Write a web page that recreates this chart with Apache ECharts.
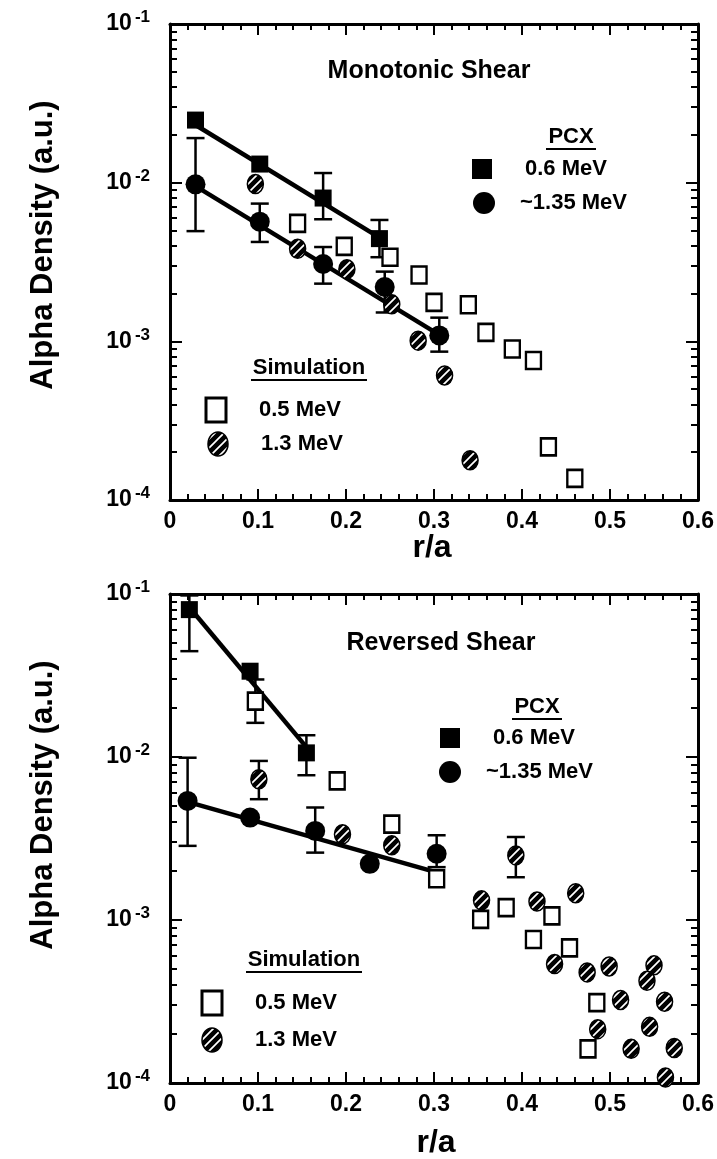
<!DOCTYPE html>
<html>
<head>
<meta charset="utf-8">
<title>Alpha density vs r/a</title>
<script src="https://cdn.jsdelivr.net/npm/echarts@6/dist/echarts.min.js"></script>
<style>
  html, body { margin: 0; padding: 0; background: #fff; }
  #main { width: 717px; height: 1159px; }
</style>
</head>
<body>
<div id="main"></div>
<script>
// values: x = r/a, y = alpha density (a.u.)

// --- Monotonic shear (top panel) ---
var monoSqX = [0.029, 0.102, 0.174, 0.238];            // PCX 0.6 MeV
var monoSqY = [0.0248, 0.0131, 0.0080, 0.00444];
var monoCircX = [0.029, 0.102, 0.174, 0.244, 0.306];   // PCX ~1.35 MeV
var monoCircY = [0.00976, 0.00568, 0.00307, 0.0022, 0.00109];
var monoSim05X = [0.145, 0.198, 0.250, 0.283, 0.300, 0.339, 0.359, 0.389, 0.413, 0.430, 0.460];
var monoSim05Y = [0.00554, 0.00397, 0.00339, 0.00262, 0.00176, 0.00170, 0.00114, 0.000895, 0.000757, 0.000216, 0.000137];
var monoSim13X = [0.097, 0.145, 0.201, 0.252, 0.282, 0.312, 0.341];
var monoSim13Y = [0.0098, 0.00383, 0.00285, 0.00171, 0.00101, 0.000609, 0.000178];
// error bars
var monoErrX  = [0.174, 0.238, 0.029, 0.102, 0.174, 0.244, 0.306];
var monoErrLo = [0.00588, 0.00339, 0.00495, 0.00423, 0.00231, 0.00152, 0.000861];
var monoErrHi = [0.0115, 0.00582, 0.0191, 0.00738, 0.00393, 0.00275, 0.00141];
// straight fits
var monoFitSqX = [0.029, 0.246];
var monoFitSqY = [0.0231, 0.00423];
var monoFitCircX = [0.029, 0.307];
var monoFitCircY = [0.0095, 0.00109];

// --- Reversed shear (bottom panel) ---
var revSqX = [0.022, 0.091, 0.155];
var revSqY = [0.0802, 0.0336, 0.0106];
var revCircX = [0.020, 0.091, 0.165, 0.227, 0.303];
var revCircY = [0.00538, 0.00425, 0.00352, 0.00221, 0.00255];
var revSim05X = [0.097, 0.190, 0.252, 0.303, 0.353, 0.382, 0.413, 0.434, 0.454, 0.485, 0.475];
var revSim05Y = [0.0220, 0.00713, 0.00387, 0.00179, 0.00101, 0.00119, 0.000759, 0.00106, 0.000675, 0.000311, 0.000162];
var revSim13X = [0.101, 0.196, 0.252, 0.393, 0.354, 0.417, 0.461, 0.437, 0.474, 0.499, 0.550, 0.542, 0.512, 0.562, 0.486, 0.545, 0.524, 0.573, 0.563];
var revSim13Y = [0.00730, 0.00336, 0.00287, 0.00249, 0.00132, 0.00130, 0.00146, 0.000537, 0.000477, 0.000519, 0.000527, 0.000424, 0.000323, 0.000315, 0.000214, 0.000221, 0.000162, 0.000164, 0.000108];
var revErrX  = [0.022, 0.155, 0.097, 0.020, 0.165, 0.303, 0.101, 0.393];
var revErrLo = [0.0446, 0.00773, 0.0162, 0.00285, 0.00259, 0.00211, 0.00551, 0.00183];
var revErrHi = [0.098, 0.0136, 0.0299, 0.0099, 0.0049, 0.00331, 0.00946, 0.00323];
var revFitSqX = [0.022, 0.155];
var revFitSqY = [0.083, 0.0115];
var revFitCircX = [0.020, 0.303];
var revFitCircY = [0.0053, 0.00196];

// axis ticks
var xTicks = [0, 0.1, 0.2, 0.3, 0.4, 0.5, 0.6];
var yMajor = [1e-4, 1e-3, 1e-2, 1e-1];

var FONT = '"Liberation Sans", Arial, Helvetica, sans-serif';

// minor log ticks 2..9 x 10^n
var yMinor = [];
[-4, -3, -2].forEach(function (e) {
  for (var k = 2; k <= 9; k++) yMinor.push(k * Math.pow(10, e));
});

// hatch pattern for the 1.3 MeV simulation points
function makeHatch() {
  var s = 9;
  var c = document.createElement('canvas');
  c.width = s; c.height = s;
  var g = c.getContext('2d');
  g.fillStyle = '#000';
  g.fillRect(0, 0, s, s);
  g.strokeStyle = '#fff';
  g.lineWidth = 1.7;
  g.beginPath();
  g.moveTo(0, s); g.lineTo(s, 0);
  g.moveTo(-s / 2, s / 2); g.lineTo(s / 2, -s / 2);
  g.moveTo(s / 2, s * 1.5); g.lineTo(s * 1.5, s / 2);
  g.stroke();
  return c;
}
var hatch = { image: makeHatch(), repeat: 'repeat' };

function pts(xs, ys) {
  return xs.map(function (x, i) { return [x, ys[i]]; });
}
function errs(xs, lo, hi) {
  return xs.map(function (x, i) { return [x, lo[i], hi[i]]; });
}

function errBar(params, api) {
  var x = api.value(0);
  var a = api.coord([x, api.value(1)]);
  var b = api.coord([x, api.value(2)]);
  var w = 9;
  var st = { stroke: '#000', lineWidth: 2.5 };
  return {
    type: 'group',
    children: [
      { type: 'line', shape: { x1: a[0], y1: a[1], x2: b[0], y2: b[1] }, style: st },
      { type: 'line', shape: { x1: a[0] - w, y1: a[1], x2: a[0] + w, y2: a[1] }, style: st },
      { type: 'line', shape: { x1: b[0] - w, y1: b[1], x2: b[0] + w, y2: b[1] }, style: st }
    ]
  };
}

function hatchItem(params, api) {
  var p = api.coord([api.value(0), api.value(1)]);
  return {
    type: 'ellipse',
    shape: { cx: p[0], cy: p[1], rx: 8, ry: 9.5 },
    style: { fill: hatch, stroke: '#000', lineWidth: 1.5 }
  };
}

var grids = [
  { left: 170, right: 16, top: 24, height: 476 },
  { left: 170, right: 16, top: 594, height: 489 }
];

var xAxes = [], yAxes = [];
grids.forEach(function (g, k) {
  [false, true].forEach(function (isTop) {
    xAxes.push({
      type: 'value', gridIndex: k, min: 0, max: 0.6, interval: 0.1,
      position: isTop ? 'top' : 'bottom', offset: 0,
      axisLine: { show: true, onZero: false, lineStyle: { color: '#000', width: 3 } },
      axisTick: { show: true, inside: true, length: 11, lineStyle: { color: '#000', width: 2 } },
      minorTick: { show: true, splitNumber: 5, length: 6, lineStyle: { color: '#000', width: 2 } },
      axisLabel: {
        show: !isTop, margin: 10, color: '#000',
        fontFamily: FONT, fontWeight: 'bold', fontSize: 23,
        customValues: xTicks
      },
      splitLine: { show: false }
    });
  });
  ['left', 'right'].forEach(function (side) {
    yAxes.push({
      type: 'log', logBase: 10, gridIndex: k, min: 1e-4, max: 1e-1, position: side, offset: 0,
      axisLine: { show: true, onZero: false, lineStyle: { color: '#000', width: 3 } },
      axisTick: { show: true, inside: true, length: 12, customValues: yMajor, lineStyle: { color: '#000', width: 2 } },
      axisLabel: {
        show: side === 'left', margin: 20, color: '#000',
        customValues: yMajor,
        formatter: function (v) {
          return '{b|10}{s|' + Math.round(Math.log10(v)) + '}';
        },
        rich: {
          b: { fontFamily: FONT, fontWeight: 'bold', fontSize: 23, lineHeight: 30, color: '#000' },
          s: { fontFamily: FONT, fontWeight: 'bold', fontSize: 17, lineHeight: 16, verticalAlign: 'top', padding: [0, 0, 0, 3], color: '#000' }
        }
      },
      splitLine: { show: false }
    });
    yAxes.push({
      type: 'log', logBase: 10, gridIndex: k, min: 1e-4, max: 1e-1, position: side, offset: 0,
      axisLine: { show: false, onZero: false },
      axisTick: { show: true, inside: true, length: 7, customValues: yMinor, lineStyle: { color: '#000', width: 2 } },
      axisLabel: { show: false },
      splitLine: { show: false }
    });
  });
});

function panelSeries(k, d) {
  var xi = 2 * k, yi = 4 * k;
  var base = { xAxisIndex: xi, yAxisIndex: yi, silent: true };
  function s(o) { return Object.assign({}, base, o); }
  return [
    s({ type: 'line', data: pts(d.fitSqX, d.fitSqY), symbol: 'none', lineStyle: { color: '#000', width: 4.5 }, z: 2 }),
    s({ type: 'line', data: pts(d.fitCircX, d.fitCircY), symbol: 'none', lineStyle: { color: '#000', width: 4.5 }, z: 2 }),
    s({ type: 'custom', renderItem: errBar, data: errs(d.errX, d.errLo, d.errHi), encode: { x: 0, y: [1, 2] }, z: 3 }),
    s({ type: 'scatter', data: pts(d.sim05X, d.sim05Y), symbol: 'rect', symbolSize: [15, 17],
        itemStyle: { color: '#fff', borderColor: '#000', borderWidth: 2.5, opacity: 1 }, z: 4 }),
    s({ type: 'custom', renderItem: hatchItem, data: pts(d.sim13X, d.sim13Y), encode: { x: 0, y: 1 }, z: 5 }),
    s({ type: 'scatter', data: pts(d.sqX, d.sqY), symbol: 'rect', symbolSize: 17,
        itemStyle: { color: '#000', opacity: 1 }, z: 6 }),
    s({ type: 'scatter', data: pts(d.circX, d.circY), symbol: 'circle', symbolSize: 20,
        itemStyle: { color: '#000', opacity: 1 }, z: 6 })
  ];
}

var series = [].concat(
  panelSeries(0, {
    sqX: monoSqX, sqY: monoSqY, circX: monoCircX, circY: monoCircY,
    sim05X: monoSim05X, sim05Y: monoSim05Y, sim13X: monoSim13X, sim13Y: monoSim13Y,
    errX: monoErrX, errLo: monoErrLo, errHi: monoErrHi,
    fitSqX: monoFitSqX, fitSqY: monoFitSqY, fitCircX: monoFitCircX, fitCircY: monoFitCircY
  }),
  panelSeries(1, {
    sqX: revSqX, sqY: revSqY, circX: revCircX, circY: revCircY,
    sim05X: revSim05X, sim05Y: revSim05Y, sim13X: revSim13X, sim13Y: revSim13Y,
    errX: revErrX, errLo: revErrLo, errHi: revErrHi,
    fitSqX: revFitSqX, fitSqY: revFitSqY, fitCircX: revFitCircX, fitCircY: revFitCircY
  })
);

// text and hand-drawn legends
function txt(x, y, text, size, align, rot) {
  return {
    type: 'text', x: x, y: y, rotation: rot || 0,
    style: {
      text: text, font: 'bold ' + size + 'px ' + FONT, fill: '#000',
      align: align || 'center', verticalAlign: 'middle',
      textAlign: align || 'center', textVerticalAlign: 'middle'
    }
  };
}
function uline(x1, x2, y) {
  return { type: 'line', shape: { x1: x1, y1: y, x2: x2, y2: y }, style: { stroke: '#000', lineWidth: 2 } };
}
function legendBlock(L) {
  return [
    txt(L.title[0], L.title[1], L.titleText, 25),
    txt(L.pcx[0], L.pcx[1], 'PCX', 22),
    uline(L.pcx[0] - 25, L.pcx[0] + 25, L.pcx[1] + 12),
    { type: 'rect', shape: { x: L.sq[0] - 10, y: L.sq[1] - 10, width: 20, height: 20 }, style: { fill: '#000' } },
    txt(L.sq[0] + 43, L.sq[1], '0.6 MeV', 22, 'left'),
    { type: 'circle', shape: { cx: L.circ[0], cy: L.circ[1], r: 11 }, style: { fill: '#000' } },
    txt(L.circ[0] + 36, L.circ[1], '~1.35 MeV', 22, 'left'),
    txt(L.sim[0], L.sim[1], 'Simulation', 22),
    uline(L.sim[0] - 58, L.sim[0] + 58, L.sim[1] + 12),
    { type: 'rect', shape: { x: L.open[0] - 10, y: L.open[1] - 12, width: 20, height: 24 }, style: { fill: '#fff', stroke: '#000', lineWidth: 3 } },
    txt(L.open[0] + 43, L.open[1], '0.5 MeV', 22, 'left'),
    { type: 'ellipse', shape: { cx: L.hat[0], cy: L.hat[1], rx: 10, ry: 12 }, style: { fill: hatch, stroke: '#000', lineWidth: 1.5 } },
    txt(L.hat[0] + 43, L.hat[1], '1.3 MeV', 22, 'left')
  ];
}

var graphics = [].concat(
  legendBlock({
    titleText: 'Monotonic Shear', title: [429, 71], pcx: [571, 137],
    sq: [482, 169], circ: [484, 203], sim: [309, 368], open: [216, 410], hat: [218, 444]
  }),
  legendBlock({
    titleText: 'Reversed Shear', title: [441, 643], pcx: [537, 707],
    sq: [450, 738], circ: [450, 772], sim: [304, 960], open: [212, 1003], hat: [212, 1040]
  }),
  [
    txt(43, 245, 'Alpha Density (a.u.)', 31, 'center', Math.PI / 2),
    txt(43, 805, 'Alpha Density (a.u.)', 31, 'center', Math.PI / 2),
    txt(432, 548, 'r/a', 32),
    txt(436, 1143, 'r/a', 32)
  ]
);

var chart = echarts.init(document.getElementById('main'));
chart.setOption({
  animation: false,
  backgroundColor: '#fff',
  grid: grids,
  xAxis: xAxes,
  yAxis: yAxes,
  series: series,
  graphic: { elements: graphics }
});
</script>
</body>
</html>
